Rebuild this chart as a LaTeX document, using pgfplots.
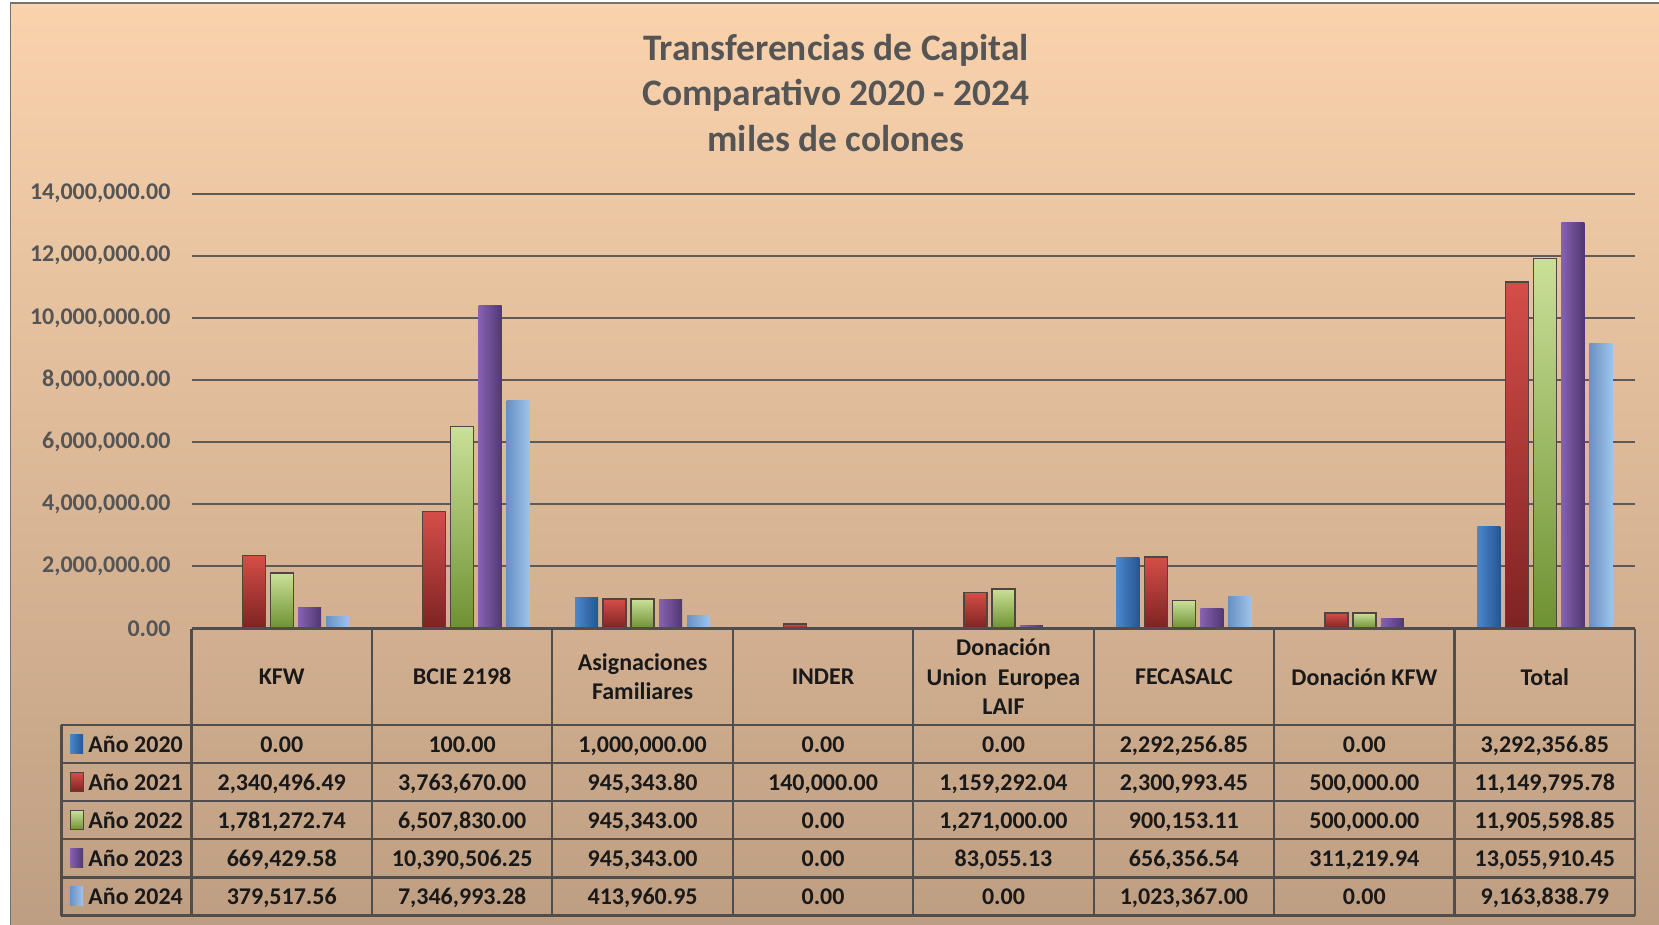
\documentclass[border=0pt]{standalone}
\usepackage{fontspec}
\setmainfont{Carlito}
\usepackage{pgfplots}
\pgfplotsset{compat=1.18}
\definecolor{bgtop}{RGB}{250,211,173}
\definecolor{bgbot}{RGB}{190,158,130}
\definecolor{titlegray}{RGB}{85,85,85}
\definecolor{tickgray}{RGB}{85,85,85}
\definecolor{gridc}{RGB}{95,90,85}
\definecolor{tabline}{RGB}{80,78,76}
\definecolor{tabtext}{RGB}{25,25,25}
\definecolor{outl}{RGB}{80,70,65}
\definecolor{bA}{RGB}{75,135,205}
\definecolor{bB}{RGB}{38,85,145}
\definecolor{rA}{RGB}{212,78,72}
\definecolor{rB}{RGB}{125,35,35}
\definecolor{gA}{RGB}{202,224,152}
\definecolor{gB}{RGB}{110,145,50}
\definecolor{pA}{RGB}{135,98,175}
\definecolor{pB}{RGB}{80,55,115}
\definecolor{lA}{RGB}{105,145,195}
\definecolor{lB}{RGB}{160,195,235}
\newcommand{\trow}[9]{%
  \node[tcell, anchor=base] at (281.72,#1+8) {#2};
  \node[tcell, anchor=base] at (462.16,#1+8) {#3};
  \node[tcell, anchor=base] at (642.60,#1+8) {#4};
  \node[tcell, anchor=base] at (823.03,#1+8) {#5};
  \node[tcell, anchor=base] at (1003.47,#1+8) {#6};
  \node[tcell, anchor=base] at (1183.91,#1+8) {#7};
  \node[tcell, anchor=base] at (1364.35,#1+8) {#8};
  \node[tcell, anchor=base] at (1544.78,#1+8) {#9};
}
\begin{document}
\begin{tikzpicture}[x=0.5pt,y=-0.5pt,
  tcell/.style={font=\bfseries\fontsize{12}{14.8}\selectfont, text=tabtext, inner sep=0pt, align=center}]
\shade[top color=bgtop, bottom color=bgbot] (0,0) rectangle (1659,925);
\fill[white] (0,0) rectangle (10,925);
\fill[white] (0,0) rectangle (1659,2.5);
\draw[black!55, line width=0.6pt] (10.5,925) -- (10.5,3) -- (1659,3);

\node[align=center, font=\bfseries\fontsize{18.7}{22.75}\selectfont, text=titlegray] at (836,93)
  {Transferencias de Capital\\Comparativo 2020 - 2024\\miles de colones};

\begin{axis}[at={(95.75pt,-314.25pt)}, anchor=south west,
  scale only axis, width=721.75pt, height=217.5pt,
  xmin=-0.5, xmax=7.5, ymin=0, ymax=14000000,
  xtick=\empty,
  ytick={0,2000000,4000000,6000000,8000000,10000000,12000000,14000000},
  scaled y ticks=false,
  ymajorgrids, grid style={line width=1pt, gridc},
  axis line style={draw=none},
  major tick length=0pt,
  yticklabel style={font=\bfseries\fontsize{12}{14}\selectfont, text=tickgray, xshift=-7pt},
  s1/.style={ybar, bar width=11.5pt, bar shift=-28pt, draw=none, left color=bA, right color=bB},
  s2/.style={ybar, bar width=11.5pt, bar shift=-14pt, draw=outl, line width=0.7pt, top color=rA, bottom color=rB},
  s3/.style={ybar, bar width=11.5pt, bar shift=0pt, draw=outl, line width=0.7pt, top color=gA, bottom color=gB},
  s4/.style={ybar, bar width=11.5pt, bar shift=14pt, draw=none, left color=pA, right color=pB},
  s5/.style={ybar, bar width=11.5pt, bar shift=28pt, draw=none, left color=lA, right color=lB},
  /pgf/number format/.cd, fixed, fixed zerofill, precision=2, 1000 sep={,}, assume math mode=true]
% KFW
\addplot[s2] coordinates {(0,2340496.49)};
\addplot[s3] coordinates {(0,1781272.74)};
\addplot[s4] coordinates {(0,669429.58)};
\addplot[s5] coordinates {(0,379517.56)};
% BCIE 2198
\addplot[s2] coordinates {(1,3763670.00)};
\addplot[s3] coordinates {(1,6507830.00)};
\addplot[s4] coordinates {(1,10390506.25)};
\addplot[s5] coordinates {(1,7346993.28)};
% Asignaciones Familiares
\addplot[s1] coordinates {(2,1000000.00)};
\addplot[s2] coordinates {(2,945343.80)};
\addplot[s3] coordinates {(2,945343.00)};
\addplot[s4] coordinates {(2,945343.00)};
\addplot[s5] coordinates {(2,413960.95)};
% INDER
\addplot[s2] coordinates {(3,140000.00)};
% Donacion UE LAIF
\addplot[s2] coordinates {(4,1159292.04)};
\addplot[s3] coordinates {(4,1271000.00)};
\addplot[s4] coordinates {(4,83055.13)};
% FECASALC
\addplot[s1] coordinates {(5,2292256.85)};
\addplot[s2] coordinates {(5,2300993.45)};
\addplot[s3] coordinates {(5,900153.11)};
\addplot[s4] coordinates {(5,656356.54)};
\addplot[s5] coordinates {(5,1023367.00)};
% Donacion KFW
\addplot[s2] coordinates {(6,500000.00)};
\addplot[s3] coordinates {(6,500000.00)};
\addplot[s4] coordinates {(6,311219.94)};
% Total
\addplot[s1] coordinates {(7,3292356.85)};
\addplot[s2] coordinates {(7,11149795.78)};
\addplot[s3] coordinates {(7,11905598.85)};
\addplot[s4] coordinates {(7,13055910.45)};
\addplot[s5] coordinates {(7,9163838.79)};
\end{axis}

% data table
\begin{scope}[tabline, line width=1.1pt]
\draw[line width=1.4pt] (191.5,628.5) -- (1635,628.5);
\foreach \yy in {725,763.1,801.2,839.3,877.4,915.5} \draw (61.4,\yy) -- (1635,\yy);
\draw (61.4,725) -- (61.4,915.5);
\foreach \xx in {191.5,371.94,552.38,732.81,913.25,1093.69,1274.13,1454.56,1635} \draw (\xx,628.5) -- (\xx,915.5);
\end{scope}

\node[tcell] at (281.72,676.75) {KFW};
\node[tcell] at (462.16,676.75) {BCIE 2198};
\node[tcell] at (642.60,676.75) {Asignaciones\\Familiares};
\node[tcell] at (823.03,676.75) {INDER};
\node[tcell] at (1003.47,676.75) {Donación\\Union\ \ Europea\\LAIF};
\node[tcell] at (1183.91,676.75) {FECASALC};
\node[tcell] at (1364.35,676.75) {Donación KFW};
\node[tcell] at (1544.78,676.75) {Total};

\shade[left color=bA, right color=bB] (70,734.5) rectangle (83,753.5);
\shade[top color=rA, bottom color=rB] (70,772.6) rectangle (83,791.6);
\draw[outl, line width=0.5pt] (70,772.6) rectangle (83,791.6);
\shade[top color=gA, bottom color=gB] (70,810.7) rectangle (83,829.7);
\draw[outl, line width=0.5pt] (70,810.7) rectangle (83,829.7);
\shade[left color=pA, right color=pB] (70,848.8) rectangle (83,867.8);
\shade[left color=lA, right color=lB] (70,886.9) rectangle (83,905.9);
\node[tcell, anchor=base west] at (88,752) {Año 2020};
\node[tcell, anchor=base west] at (88,790.1) {Año 2021};
\node[tcell, anchor=base west] at (88,828.2) {Año 2022};
\node[tcell, anchor=base west] at (88,866.3) {Año 2023};
\node[tcell, anchor=base west] at (88,904.4) {Año 2024};

\trow{744}{0.00}{100.00}{1,000,000.00}{0.00}{0.00}{2,292,256.85}{0.00}{3,292,356.85}
\trow{782.1}{2,340,496.49}{3,763,670.00}{945,343.80}{140,000.00}{1,159,292.04}{2,300,993.45}{500,000.00}{11,149,795.78}
\trow{820.2}{1,781,272.74}{6,507,830.00}{945,343.00}{0.00}{1,271,000.00}{900,153.11}{500,000.00}{11,905,598.85}
\trow{858.3}{669,429.58}{10,390,506.25}{945,343.00}{0.00}{83,055.13}{656,356.54}{311,219.94}{13,055,910.45}
\trow{896.4}{379,517.56}{7,346,993.28}{413,960.95}{0.00}{0.00}{1,023,367.00}{0.00}{9,163,838.79}

\pgfresetboundingbox
\useasboundingbox (0,0) rectangle (1659,925);
\end{tikzpicture}
\end{document}
